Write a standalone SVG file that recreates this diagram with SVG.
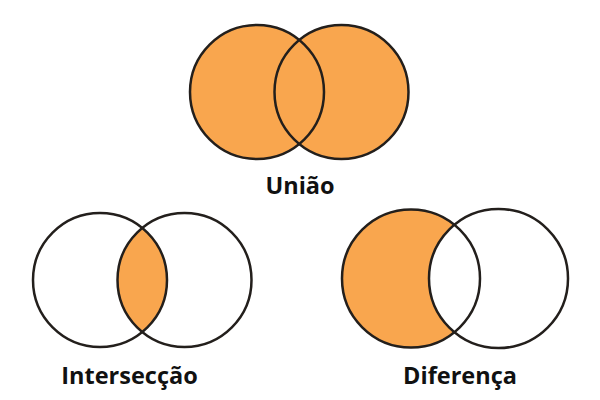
<svg xmlns="http://www.w3.org/2000/svg" width="600" height="400" viewBox="0 0 600 400">
<style>
.o{fill:none;stroke:#231f1c;stroke-width:2.5}
.f{fill:#F9A64E}
.w{fill:#fff}
.t{font-family:"Open Sans","Noto Sans","DejaVu Sans",sans-serif;font-weight:700;font-size:23.5px;fill:#111;text-anchor:middle}
</style>
<defs>
<clipPath id="cl"><circle cx="184.5" cy="280" r="67"/></clipPath>
</defs>
<rect width="600" height="400" fill="#fff"/>
<g id="uniao">
<circle class="f" cx="257" cy="92" r="67"/>
<circle class="f" cx="341.5" cy="92" r="67"/>
<circle class="o" cx="257" cy="92" r="67"/>
<circle class="o" cx="341.5" cy="92" r="67"/>
<text class="t" x="300" y="194">União</text>
</g>
<g id="interseccao">
<circle class="f" cx="100" cy="280" r="67" clip-path="url(#cl)"/>
<circle class="o" cx="100" cy="280" r="67"/>
<circle class="o" cx="184.5" cy="280" r="67"/>
<text class="t" x="129.5" y="384">Intersecção</text>
</g>
<g id="diferenca">
<circle class="f" cx="411" cy="278.5" r="69"/>
<circle class="w" cx="498.5" cy="278.5" r="69.5"/>
<circle class="o" cx="411" cy="278.5" r="69"/>
<circle class="o" cx="498.5" cy="278.5" r="69.5"/>
<text class="t" x="460" y="384">Diferença</text>
</g>
</svg>
